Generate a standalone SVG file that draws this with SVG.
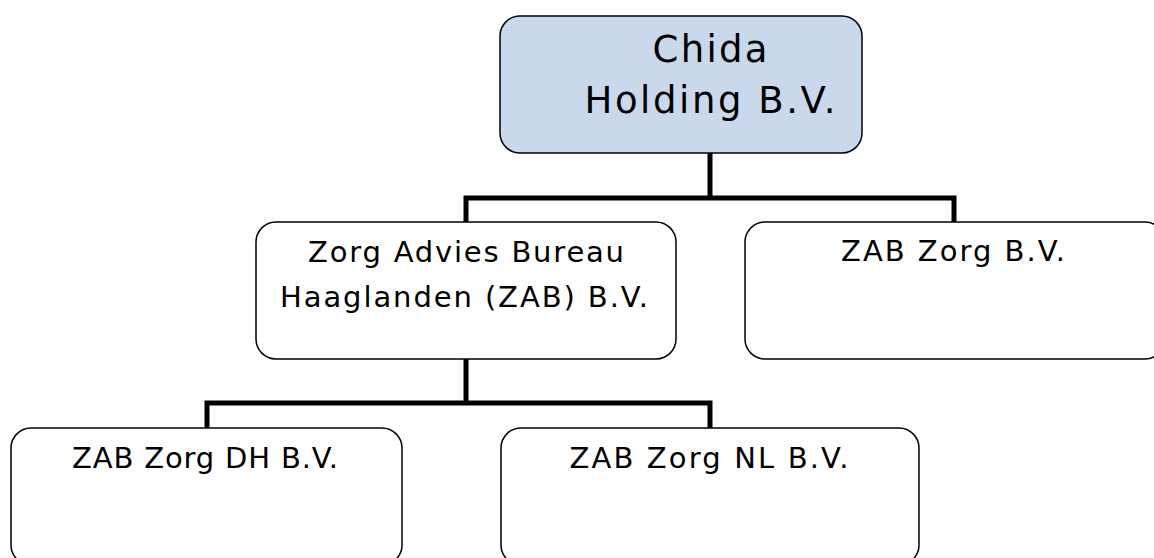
<svg xmlns="http://www.w3.org/2000/svg" width="1154" height="558" viewBox="0 0 1154 558">
<style>
.box{fill:#ffffff;stroke:#000000;stroke-width:1.5}
.top{fill:#c9d9eb}
.lbl{font-family:"DejaVu Sans",Verdana,sans-serif;fill:#000000;text-anchor:middle}
.big{font-size:37px}
.sm{font-size:29px}
.conn{fill:none;stroke:#000000;stroke-width:5;stroke-linejoin:miter;stroke-linecap:square}
</style>
<rect width="1154" height="558" fill="#ffffff"/>
<g id="connectors">
<path class="conn" d="M710,154 V198 M466,198 H954 M466,198 V221 M954,198 V221"/>
<path class="conn" d="M466,360 V403 M207,403 H710 M207,403 V427 M710,403 V427"/>
</g>
<g id="node-chida">
<rect class="box top" x="500" y="16" width="362" height="137" rx="20"/>
<text class="lbl big" x="710" y="62" textLength="115" lengthAdjust="spacing">Chida</text>
<text class="lbl big" x="710" y="113" textLength="251" lengthAdjust="spacing">Holding B.V.</text>
</g>
<g id="node-zab-haaglanden">
<rect class="box" x="256" y="222" width="420" height="137" rx="20"/>
<text class="lbl sm" x="466" y="262" textLength="316" lengthAdjust="spacing">Zorg Advies Bureau</text>
<text class="lbl sm" x="464" y="307" textLength="368" lengthAdjust="spacing">Haaglanden (ZAB) B.V.</text>
</g>
<g id="node-zab-zorg">
<rect class="box" x="745" y="222" width="420" height="137" rx="20"/>
<text class="lbl sm" x="953" y="261" textLength="224" lengthAdjust="spacing">ZAB Zorg B.V.</text>
</g>
<g id="node-zab-zorg-dh">
<rect class="box" x="11" y="428" width="391" height="137" rx="20"/>
<text class="lbl sm" x="205" y="468" textLength="266" lengthAdjust="spacing">ZAB Zorg DH B.V.</text>
</g>
<g id="node-zab-zorg-nl">
<rect class="box" x="501" y="428" width="418" height="137" rx="20"/>
<text class="lbl sm" x="709" y="468" textLength="279" lengthAdjust="spacing">ZAB Zorg NL B.V.</text>
</g>
</svg>
